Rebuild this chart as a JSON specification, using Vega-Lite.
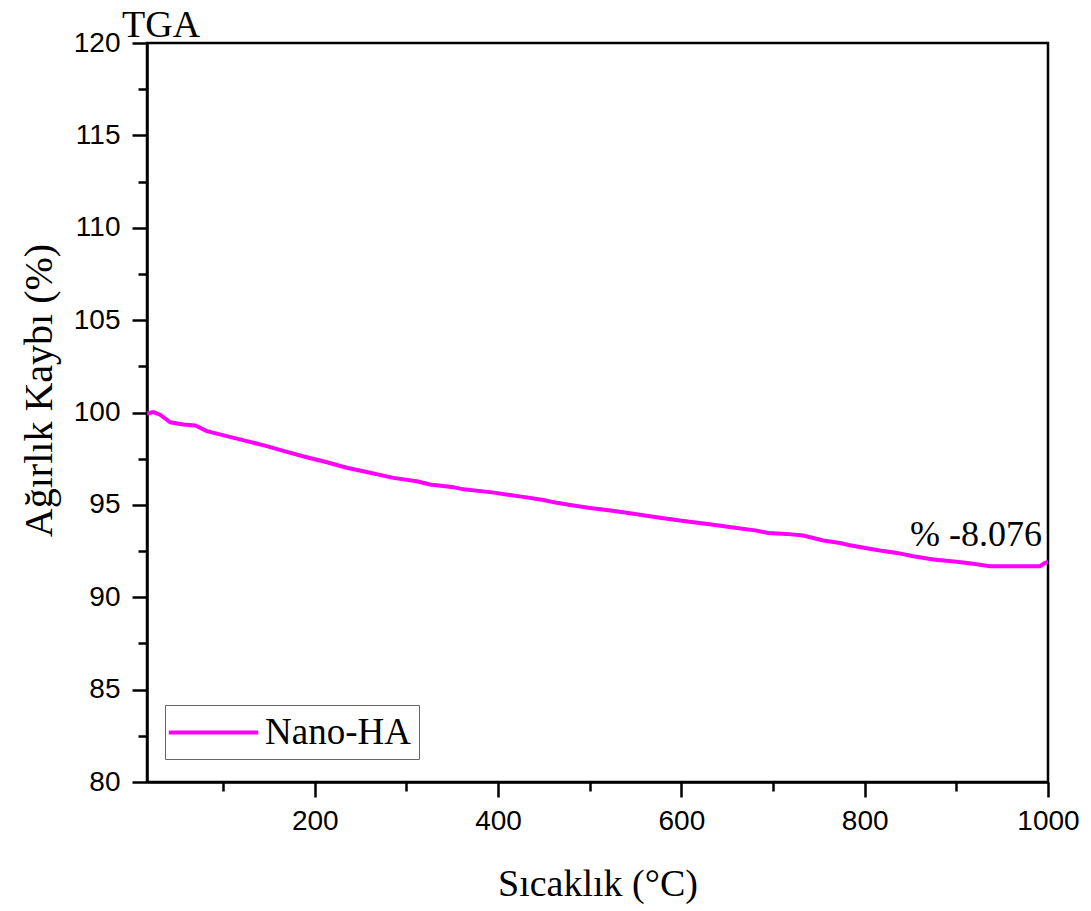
{
  "$schema": "https://vega.github.io/schema/vega-lite/v6.json",
  "width": 901,
  "height": 739,
  "autosize": {"type": "none"},
  "padding": {"left": 147, "top": 43, "right": 43, "bottom": 129},
  "background": "white",
  "title": {
    "text": "TGA",
    "anchor": "start",
    "frame": "group",
    "font": "Liberation Serif",
    "fontSize": 38,
    "fontWeight": "normal",
    "color": "black",
    "baseline": "alphabetic",
    "dx": -25,
    "offset": -46
  },
  "config": {
    "view": {"stroke": "black", "strokeWidth": 2.5},
    "axis": {
      "domainColor": "black",
      "domainWidth": 2.5,
      "tickColor": "black",
      "tickWidth": 2.5,
      "grid": false,
      "labelFont": "Liberation Sans",
      "labelFontSize": 28,
      "labelColor": "black",
      "titleFont": "Liberation Serif",
      "titleFontSize": 38,
      "titleFontWeight": "normal",
      "titleColor": "black"
    }
  },
  "datasets": {
    "tga": [
      {"T": 17, "W": 99.95, "series": "Nano-HA"},
      {"T": 23.7, "W": 100.02, "series": "Nano-HA"},
      {"T": 31.3, "W": 99.88, "series": "Nano-HA"},
      {"T": 42.4, "W": 99.47, "series": "Nano-HA"},
      {"T": 56.6, "W": 99.35, "series": "Nano-HA"},
      {"T": 69.7, "W": 99.3, "series": "Nano-HA"},
      {"T": 82.3, "W": 98.99, "series": "Nano-HA"},
      {"T": 104.1, "W": 98.72, "series": "Nano-HA"},
      {"T": 125.9, "W": 98.45, "series": "Nano-HA"},
      {"T": 147.7, "W": 98.18, "series": "Nano-HA"},
      {"T": 169.5, "W": 97.87, "series": "Nano-HA"},
      {"T": 191.3, "W": 97.58, "series": "Nano-HA"},
      {"T": 213.2, "W": 97.31, "series": "Nano-HA"},
      {"T": 235.0, "W": 97.01, "series": "Nano-HA"},
      {"T": 260.4, "W": 96.74, "series": "Nano-HA"},
      {"T": 285.8, "W": 96.46, "series": "Nano-HA"},
      {"T": 311.3, "W": 96.28, "series": "Nano-HA"},
      {"T": 325.8, "W": 96.1, "series": "Nano-HA"},
      {"T": 351.3, "W": 95.96, "series": "Nano-HA"},
      {"T": 362.2, "W": 95.84, "series": "Nano-HA"},
      {"T": 391.3, "W": 95.69, "series": "Nano-HA"},
      {"T": 410.9, "W": 95.55, "series": "Nano-HA"},
      {"T": 429.5, "W": 95.42, "series": "Nano-HA"},
      {"T": 449.4, "W": 95.26, "series": "Nano-HA"},
      {"T": 464.0, "W": 95.11, "series": "Nano-HA"},
      {"T": 480.4, "W": 94.98, "series": "Nano-HA"},
      {"T": 498.5, "W": 94.84, "series": "Nano-HA"},
      {"T": 520.3, "W": 94.71, "series": "Nano-HA"},
      {"T": 540.4, "W": 94.57, "series": "Nano-HA"},
      {"T": 558.5, "W": 94.44, "series": "Nano-HA"},
      {"T": 576.7, "W": 94.3, "series": "Nano-HA"},
      {"T": 598.5, "W": 94.15, "series": "Nano-HA"},
      {"T": 613.1, "W": 94.06, "series": "Nano-HA"},
      {"T": 634.9, "W": 93.92, "series": "Nano-HA"},
      {"T": 660.4, "W": 93.75, "series": "Nano-HA"},
      {"T": 680.4, "W": 93.62, "series": "Nano-HA"},
      {"T": 694.9, "W": 93.48, "series": "Nano-HA"},
      {"T": 714.9, "W": 93.43, "series": "Nano-HA"},
      {"T": 733.1, "W": 93.34, "series": "Nano-HA"},
      {"T": 754.9, "W": 93.07, "series": "Nano-HA"},
      {"T": 773.1, "W": 92.94, "series": "Nano-HA"},
      {"T": 784.0, "W": 92.81, "series": "Nano-HA"},
      {"T": 802.2, "W": 92.65, "series": "Nano-HA"},
      {"T": 816.7, "W": 92.53, "series": "Nano-HA"},
      {"T": 834.9, "W": 92.4, "series": "Nano-HA"},
      {"T": 853.1, "W": 92.22, "series": "Nano-HA"},
      {"T": 874.9, "W": 92.04, "series": "Nano-HA"},
      {"T": 900.4, "W": 91.92, "series": "Nano-HA"},
      {"T": 918.5, "W": 91.81, "series": "Nano-HA"},
      {"T": 936.7, "W": 91.68, "series": "Nano-HA"},
      {"T": 991.3, "W": 91.68, "series": "Nano-HA"},
      {"T": 996.7, "W": 91.86, "series": "Nano-HA"},
      {"T": 1000, "W": 91.92, "series": "Nano-HA"}
    ],
    "note": [
      {"T": 1000, "W": 91.924, "label": "% -8.076"}
    ]
  },
  "layer": [
    {
      "data": {"name": "tga"},
      "mark": {"type": "line", "strokeWidth": 4, "clip": true},
      "encoding": {
        "x": {
          "field": "T",
          "type": "quantitative",
          "scale": {"domain": [17, 1000], "nice": false, "zero": false},
          "axis": {
            "orient": "bottom",
            "title": "Sıcaklık (°C)",
            "values": [200, 400, 600, 800, 1000],
            "format": "d",
            "tickSize": 15,
            "labelPadding": 10,
            "titlePadding": 30,
            "labelFlush": false,
            "labelOverlap": false
          }
        },
        "y": {
          "field": "W",
          "type": "quantitative",
          "scale": {"domain": [80, 120], "nice": false, "zero": false},
          "axis": {
            "orient": "left",
            "title": "Ağırlık Kaybı (%)",
            "titleFontSize": 40,
            "titleY": 347,
            "values": [80, 85, 90, 95, 100, 105, 110, 115, 120],
            "tickSize": 15,
            "labelPadding": 12,
            "titlePadding": 14,
            "labelFlush": false,
            "labelOverlap": false
          }
        },
        "color": {
          "field": "series",
          "type": "nominal",
          "scale": {"domain": ["Nano-HA"], "range": ["#FF00FF"]},
          "legend": {
            "orient": "none",
            "legendX": 18,
            "legendY": 662,
            "title": null,
            "symbolType": "M-2.6,0H2.6",
            "symbolSize": 1183,
            "symbolStrokeWidth": 4,
            "symbolOffset": 21,
            "labelFont": "Liberation Serif",
            "labelFontSize": 37,
            "labelColor": "black",
            "labelOffset": 32,
            "strokeColor": "#666666",
            "padding": 8
          }
        }
      }
    },
    {
      "data": {"name": "note"},
      "mark": {
        "type": "text",
        "align": "right",
        "baseline": "alphabetic",
        "font": "Liberation Serif",
        "fontSize": 36,
        "color": "black",
        "dx": -6,
        "dy": -16
      },
      "encoding": {
        "x": {
          "field": "T",
          "type": "quantitative",
          "axis": {
            "orient": "bottom",
            "title": null,
            "values": [100, 300, 500, 700, 900],
            "tickSize": 9,
            "labels": false,
            "domain": false
          }
        },
        "y": {
          "field": "W",
          "type": "quantitative",
          "axis": {
            "orient": "left",
            "title": null,
            "values": [82.5, 87.5, 92.5, 97.5, 102.5, 107.5, 112.5, 117.5],
            "tickSize": 9,
            "labels": false,
            "domain": false
          }
        },
        "text": {"field": "label"}
      }
    }
  ],
  "resolve": {"axis": {"x": "independent", "y": "independent"}}
}
